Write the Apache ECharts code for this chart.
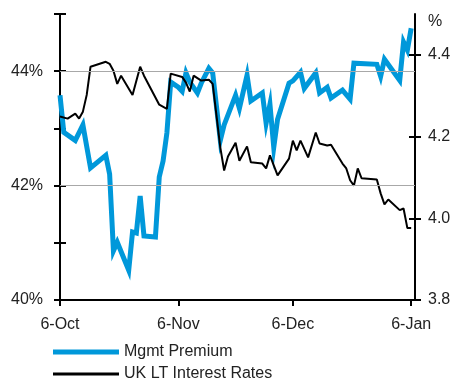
<!DOCTYPE html>
<html>
<head>
<meta charset="utf-8">
<script src="https://cdn.jsdelivr.net/npm/echarts@6/dist/echarts.min.js"></script>
<style>
  html, body { margin: 0; padding: 0; background: #fff; }
  #chart { width: 454px; height: 383px; }
</style>
</head>
<body>
<div id="chart"></div>
<script>
// Days counted from 6 October
const premiumDays = [0, 1, 4, 6, 8, 12, 13, 14, 15, 18, 19, 20, 21, 22, 25, 26, 27, 28, 29, 31, 32, 33, 34, 36, 37, 39, 40, 42, 43, 46, 47, 49, 50, 53, 54, 55, 56, 57, 60, 61, 63, 64, 67, 68, 70, 71, 74, 76, 77, 83, 84, 85, 89, 90, 91, 92];
const premiumValues = [43.58, 42.93, 42.79, 43.06, 42.31, 42.53, 42.20, 40.86, 41.01, 40.52, 41.19, 41.17, 41.82, 41.12, 41.10, 42.15, 42.43, 42.92, 43.81, 43.72, 43.65, 43.97, 43.81, 43.62, 43.79, 44.05, 43.97, 42.79, 43.06, 43.58, 43.35, 43.93, 43.48, 43.62, 43.09, 43.42, 42.67, 43.16, 43.79, 43.83, 43.98, 43.70, 43.97, 43.62, 43.72, 43.53, 43.67, 43.51, 44.14, 44.12, 43.91, 44.21, 43.84, 44.51, 44.37, 44.75];

const rateDays = [0, 2, 4, 5, 6, 7, 8, 12, 13, 14, 15, 16, 19, 21, 22, 26, 28, 29, 32, 33, 34, 35, 37, 39, 40, 42, 43, 44, 46, 47, 49, 50, 53, 54, 55, 57, 60, 61, 62, 63, 65, 67, 68, 70, 71, 74, 75, 76, 77, 78, 79, 83, 84, 85, 86, 89, 90, 91, 92];
const rateValues = [4.249, 4.244, 4.256, 4.244, 4.261, 4.302, 4.371, 4.383, 4.378, 4.361, 4.329, 4.349, 4.302, 4.371, 4.349, 4.278, 4.268, 4.354, 4.346, 4.332, 4.310, 4.349, 4.337, 4.339, 4.329, 4.173, 4.117, 4.151, 4.185, 4.141, 4.176, 4.137, 4.134, 4.122, 4.154, 4.105, 4.146, 4.190, 4.166, 4.190, 4.149, 4.210, 4.183, 4.178, 4.180, 4.134, 4.122, 4.093, 4.080, 4.122, 4.098, 4.095, 4.061, 4.034, 4.046, 4.020, 4.024, 3.976, 3.976];

const dateTickDays = [0, 31, 61, 92];
const dateTickLabels = ['6-Oct', '6-Nov', '6-Dec', '6-Jan'];
const leftTickLabels = [40, 42, 44];
const rightTickValues = [3.8, 4.0, 4.2, 4.4];
const gridValues = [42, 44];

const FONT = "'Liberation Sans', Arial, sans-serif";
const TEXT = '#222';
const BLUE = '#0098da';
const CLEAR = 'rgba(0,0,0,0)';

const zip = (xs, ys) => xs.map((x, i) => [x, ys[i]]);

const chart = echarts.init(document.getElementById('chart'), null, { renderer: 'canvas' });

const baseY = (extra) => Object.assign({
  type: 'value',
  splitLine: { show: false },
  axisLine: { show: false },
  axisLabel: { show: false },
  axisTick: { show: false }
}, extra);

// one legend block per series, stacked under the plot
const legendBlock = (name, top, thickness, color) => ({
  orient: 'horizontal',
  left: 53,
  top: top,
  padding: 0,
  icon: 'rect',
  itemWidth: 66,
  itemHeight: thickness,
  itemStyle: { color: color, borderWidth: 0 },
  textStyle: { fontFamily: FONT, fontSize: 16, color: TEXT },
  data: [name]
});

chart.setOption({
  animation: false,
  backgroundColor: '#fff',
  textStyle: { fontFamily: FONT },
  grid: { left: 60, right: 39, top: 14, bottom: 83, containLabel: false },
  legend: [
    legendBlock('Mgmt Premium', 344, 5, BLUE),
    legendBlock('UK LT Interest Rates', 366, 3, '#000')
  ],
  xAxis: {
    type: 'value',
    min: 0,
    max: 93,
    splitLine: { show: false },
    axisLine: { show: true, onZero: false, lineStyle: { color: '#000', width: 2 } },
    axisTick: { show: true, length: 6, customValues: dateTickDays, lineStyle: { color: '#000', width: 2 } },
    axisLabel: {
      customValues: dateTickDays,
      margin: 17,
      fontFamily: FONT,
      fontSize: 16,
      color: TEXT,
      formatter: (v) => {
        const i = dateTickDays.indexOf(v);
        return i >= 0 ? dateTickLabels[i] : '';
      }
    }
  },
  yAxis: [
    baseY({
      position: 'left',
      min: 40, max: 45, interval: 1,
      axisLine: { show: true, onZero: false, lineStyle: { color: '#000', width: 2 } },
      axisTick: { show: true, length: 6, lineStyle: { color: '#000', width: 2 } },
      axisLabel: {
        show: true,
        customValues: leftTickLabels,
        margin: 17,
        fontFamily: FONT, fontSize: 16, color: TEXT,
        formatter: (v) => (leftTickLabels.indexOf(v) >= 0 ? v + '%' : '')
      }
    }),
    baseY({
      position: 'right',
      min: 3.8, max: 4.5, interval: 0.2,
      axisLine: { show: true, onZero: false, lineStyle: { color: '#000', width: 2 } },
      axisTick: { show: true, length: 6, customValues: rightTickValues, lineStyle: { color: '#000', width: 2 } },
      axisLabel: {
        show: true,
        customValues: rightTickValues,
        margin: 13,
        fontFamily: FONT, fontSize: 16, color: TEXT,
        formatter: (v) => v.toFixed(1)
      }
    }),
    // inner halves of the crossing ticks
    baseY({
      position: 'left',
      min: 40, max: 45, interval: 1,
      axisLine: { show: true, onZero: false, lineStyle: { color: CLEAR, width: 1 } },
      axisTick: { show: true, inside: true, length: 6, lineStyle: { color: '#000', width: 2 } }
    }),
    baseY({
      position: 'right',
      min: 3.8, max: 4.5, interval: 0.2,
      axisLine: { show: true, onZero: false, lineStyle: { color: CLEAR, width: 1 } },
      axisTick: { show: true, inside: true, length: 6, customValues: rightTickValues, lineStyle: { color: '#000', width: 2 } }
    })
  ],
  graphic: [{
    type: 'text',
    left: 428,
    top: 14,
    style: { text: '%', font: '16px ' + FONT, fill: TEXT }
  }],
  series: [
    {
      name: 'gridlines',
      type: 'line',
      yAxisIndex: 0,
      data: [],
      z: 1,
      silent: true,
      markLine: {
        silent: true,
        symbol: ['none', 'none'],
        label: { show: false },
        lineStyle: { color: '#a8a8a8', width: 1, type: 'solid' },
        data: gridValues.map((v) => ({ yAxis: v }))
      }
    },
    {
      name: 'Mgmt Premium',
      type: 'line',
      yAxisIndex: 0,
      data: zip(premiumDays, premiumValues),
      showSymbol: false,
      symbol: 'none',
      z: 2,
      color: BLUE,
      lineStyle: { color: BLUE, width: 5, join: 'miter' }
    },
    {
      name: 'UK LT Interest Rates',
      type: 'line',
      yAxisIndex: 1,
      data: zip(rateDays, rateValues),
      showSymbol: false,
      symbol: 'none',
      z: 3,
      color: '#000',
      lineStyle: { color: '#000', width: 2 }
    }
  ]
});
</script>
</body>
</html>
